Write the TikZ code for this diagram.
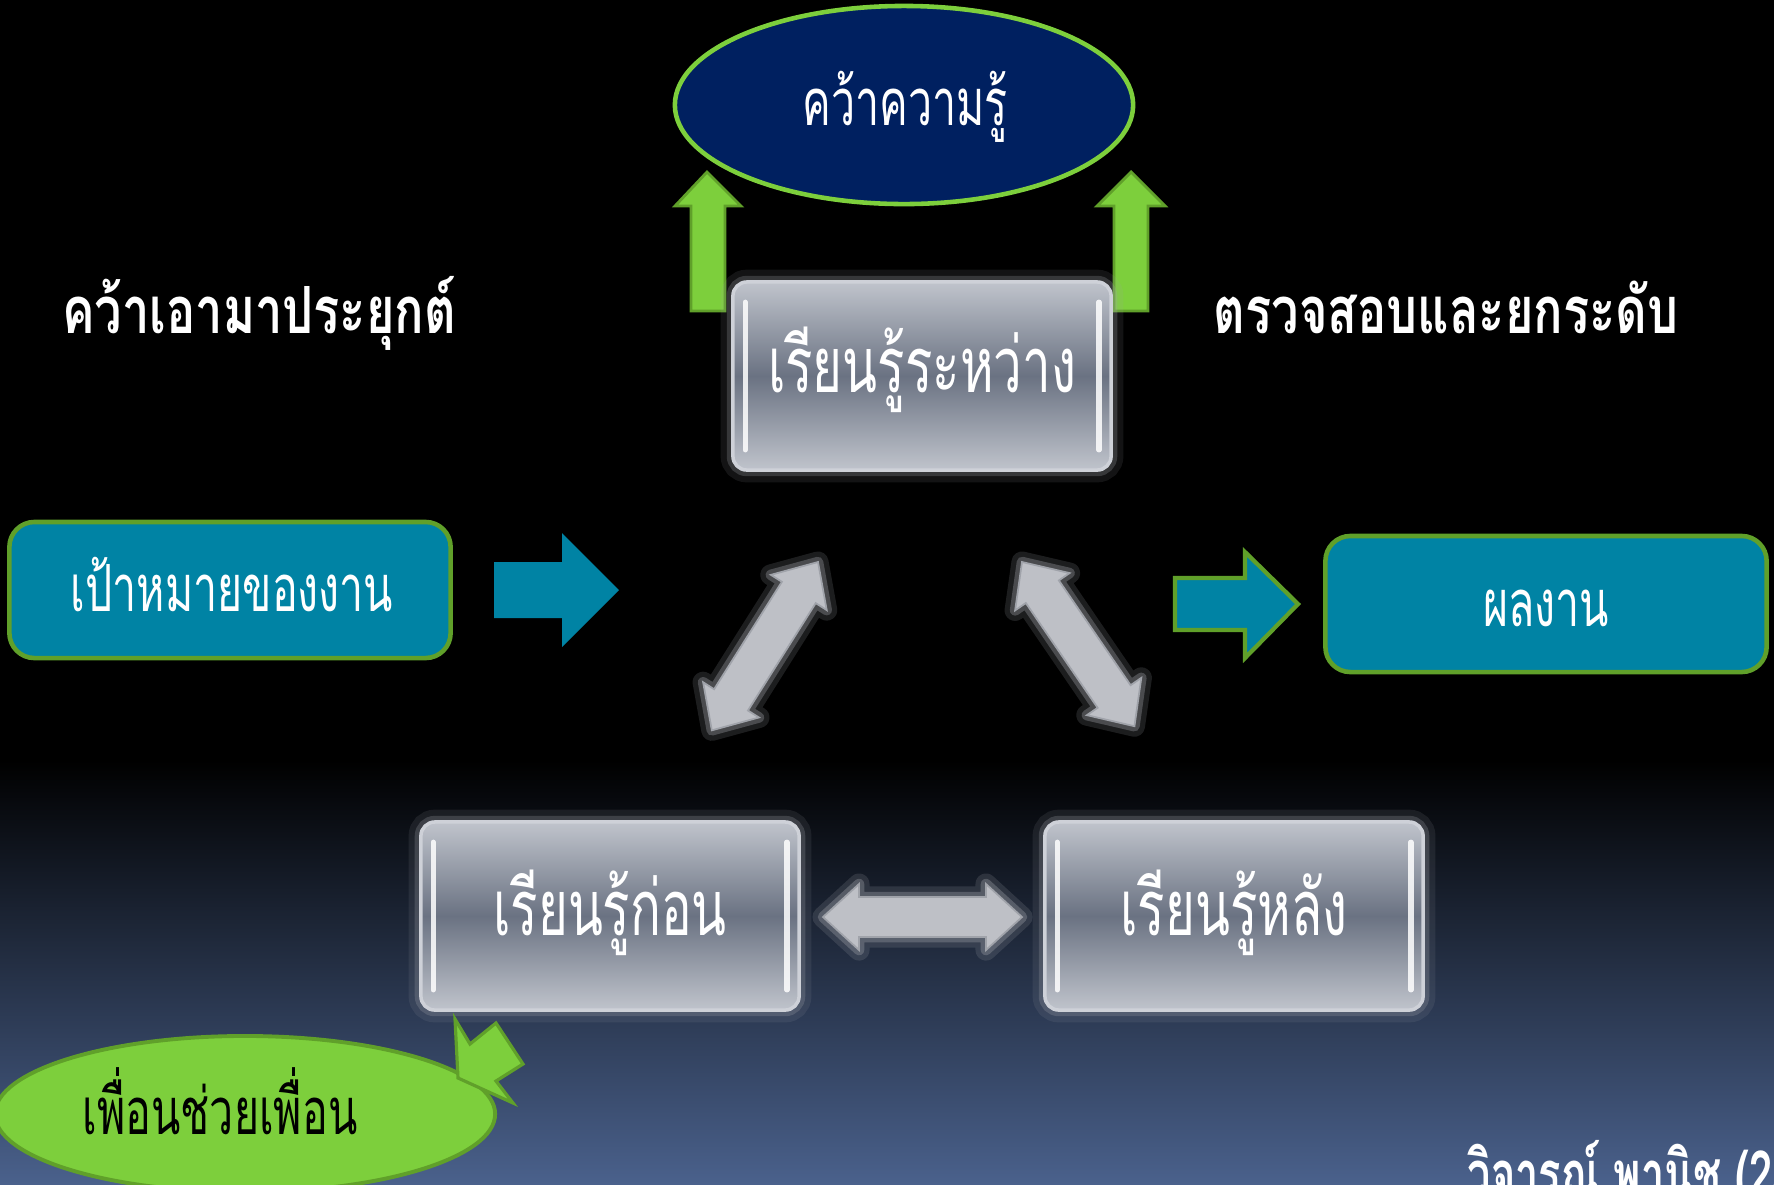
\documentclass[tikz,border=0pt]{standalone}
\usepackage{fontspec}
\newfontfamily\thaifont[Script=Thai, FakeStretch=0.66]{Loma}
\newfontfamily\thaibold[Script=Thai, FakeStretch=0.75]{Loma}
\newfontfamily\thaicite[Script=Thai, FakeStretch=0.64]{Loma}
\usetikzlibrary{shapes.geometric, positioning}

\definecolor{navy}{RGB}{0,32,96}
\definecolor{leaf}{RGB}{125,207,60}
\definecolor{leafdark}{RGB}{96,160,42}
\definecolor{boxteal}{RGB}{0,131,164}
\definecolor{bgblue}{RGB}{74,97,140}
\definecolor{glasstop}{RGB}{192,196,204}
\definecolor{glassmid}{RGB}{106,114,130}
\definecolor{glassrim}{RGB}{206,209,216}
\definecolor{glowgray}{RGB}{160,163,170}
\definecolor{arrowgray}{RGB}{190,192,198}

\tikzset{
  bigtext/.style={font=\thaifont\fontsize{22}{26}\selectfont, text=white, inner sep=0pt, anchor=base},
  midtext/.style={font=\thaifont\fontsize{18.5}{22}\selectfont, text=white, inner sep=0pt, anchor=base},
  boldtext/.style={font=\thaibold\bfseries\fontsize{18.5}{22}\selectfont, text=white, inner sep=0pt, anchor=base},
  glassbox/.style={rectangle, rounded corners=0.14cm, minimum width=3.78cm, minimum height=1.88cm,
    top color=glasstop, bottom color=glasstop, middle color=glassmid, draw=glassrim, line width=1pt,
    preaction={draw=glowgray, line width=7pt, opacity=.12},
    preaction={draw=glowgray, line width=3.5pt, opacity=.25}},
  glasshl/.style={draw=white, opacity=.85, line width=1.5pt, line cap=round},
  tealbox/.style={rectangle, rounded corners=0.25cm, minimum width=4.41cm, minimum height=1.36cm,
    fill=boxteal, draw=leafdark, line width=1.3pt},
  blockup/.style={fill=leaf, draw=leafdark, line width=.8pt, line join=miter},
  dblarr/.pic={
    \path[draw=glowgray, line width=6pt, opacity=.18, line join=round]
      (0,0) -- (36,-33) -- (36,-20) -- (163,-20) -- (163,-33) -- (199,0)
      -- (163,33) -- (163,20) -- (36,20) -- (36,33) -- cycle;
    \path[draw=glowgray, line width=3pt, opacity=.35, line join=round]
      (0,0) -- (36,-33) -- (36,-20) -- (163,-20) -- (163,-33) -- (199,0)
      -- (163,33) -- (163,20) -- (36,20) -- (36,33) -- cycle;
    \path[fill=arrowgray, draw=glowgray, line width=.5pt]
      (0,0) -- (36,-33) -- (36,-20) -- (163,-20) -- (163,-33) -- (199,0)
      -- (163,33) -- (163,20) -- (36,20) -- (36,33) -- cycle;
  }
}

\begin{document}
\begin{tikzpicture}[x=0.01cm, y=-0.01cm]
  \useasboundingbox (0,0) rectangle (1774,1184);
  % background
  \fill[black] (0,0) rectangle (1774,762);
  \shade[top color=black, bottom color=bgblue] (0,760) rectangle (1774,1184);

  % knowledge ellipse and green arrows
  \node (grab) [ellipse, fill=navy, draw=leaf, line width=1.3pt, minimum width=4.58cm, minimum height=1.98cm, inner sep=0pt] at (904,105) {};
  \node (grab-txt) [midtext] at (905,125) {คว้าความรู้};
  \path[blockup] (707,172) -- (741,206) -- (725,206) -- (725,311) -- (691,311) -- (691,206) -- (675,206) -- cycle;
  \path[blockup] (1131,172) -- (1165,206) -- (1148,206) -- (1148,311) -- (1114,311) -- (1114,206) -- (1097,206) -- cycle;

  % side labels
  \node (apply) [boldtext] at (259,333) {คว้าเอามาประยุกต์};
  \node (check) [boldtext] at (1446,333) {ตรวจสอบและยกระดับ};

  % glass boxes
  \node (during) [glassbox] at (922,376) {};
  \node (before) [glassbox] at (610,916) {};
  \node (after) [glassbox] at (1234,916) {};
  \foreach \b in {during, before, after} {
    \draw[glasshl] ([shift={(14,22)}]\b.north west) -- ([shift={(14,-22)}]\b.south west);
    \draw[glasshl] ([shift={(-14,22)}]\b.north east) -- ([shift={(-14,-22)}]\b.south east);
  }
  \node (during-txt) [bigtext] at (922,392) {เรียนรู้ระหว่าง};
  \node (before-txt) [bigtext] at (610,935) {เรียนรู้ก่อน};
  \node (after-txt) [bigtext] at (1234,935) {เรียนรู้หลัง};

  % double arrows between the boxes
  \coordinate (dl-a) at (818,562);
  \coordinate (dr-a) at (1022,562);
  \coordinate (h-a) at (823,917);
  \pic[rotate=237.75] at (dl-a) {dblarr};
  \pic[rotate=304.4] at (dr-a) {dblarr};
  \pic at (h-a) {dblarr};

  % goal and result
  \node (goal) [tealbox] at (230,590) {};
  \node (goal-txt) [midtext] at (232,611) {เป้าหมายของงาน};
  \node (result) [tealbox] at (1546,604) {};
  \node (result-txt) [midtext] at (1546,626) {ผลงาน};
  \fill[boxteal] (494,562) -- (562,562) -- (562,533) -- (619,590) -- (562,647) -- (562,618) -- (494,618) -- cycle;
  \path[fill=boxteal, draw=leafdark, line width=1.2pt] (1175,578) -- (1245,578) -- (1245,552) -- (1298,604) -- (1245,658) -- (1245,630) -- (1175,630) -- cycle;

  % peer help
  \node (peer) [ellipse, fill=leaf, draw=leafdark, line width=1.1pt, minimum width=5.0cm, minimum height=1.56cm, inner sep=0pt] at (245,1114) {};
  \node (peer-txt) [midtext, text=black] at (220,1134) {เพื่อนช่วยเพื่อน};
  \path[fill=leaf, draw=leafdark, line width=.9pt] (455,1019) -- (470,1044) -- (496,1023) -- (523,1064) -- (496,1081) -- (513,1103) -- (458,1078) -- cycle;

  % source
  \node (cite) [font=\thaicite\bfseries\fontsize{18.5}{22}\selectfont, text=white, inner sep=0pt, anchor=base west] at (1467,1197) {วิจารณ์ พานิช (255};
\end{tikzpicture}
\end{document}
